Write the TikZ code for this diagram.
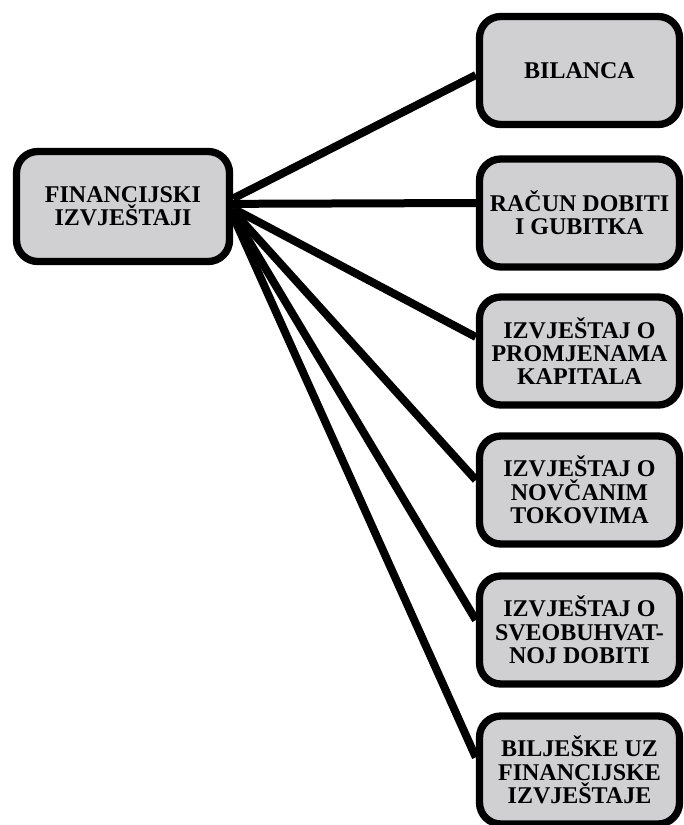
\documentclass[tikz,border=0pt]{standalone}
\usepackage{fontspec}
\setmainfont{Liberation Serif}
\usetikzlibrary{backgrounds}
\definecolor{boxgray}{RGB}{208,208,210}
\begin{document}
\begin{tikzpicture}[x=0.75pt,y=-0.75pt,
  box/.style={draw=black, line width=5.5pt, rounded corners=16pt, fill=boxgray,
    align=center, inner sep=0pt, text=black,
    font=\fontsize{18}{17.5}\selectfont\bfseries},
  leftbox/.style={box, minimum width=159.75pt, minimum height=82.5pt},
  rightbox/.style={box, minimum width=150pt, minimum height=81pt},
  conn/.style={draw=black, line width=6pt}]
\useasboundingbox (0,0) rectangle (684,825);
\node[leftbox] (L) at (123,206.5) {FINANCIJSKI\\IZVJEŠTAJI};
\node[rightbox] (B1) at (579.5,70.5) {BILANCA};
\node[rightbox] (B2) at (579.5,213) {RAČUN DOBITI\\I GUBITKA};
\node[rightbox] (B3) at (579.5,351) {IZVJEŠTAJ O\\PROMJENAMA\\KAPITALA};
\node[rightbox] (B4) at (579.5,490) {IZVJEŠTAJ O\\NOVČANIM\\TOKOVIMA};
\node[rightbox] (B5) at (579.5,630) {IZVJEŠTAJ O\\SVEOBUHVAT-\\NOJ DOBITI};
\node[rightbox] (B6) at (579.5,770) {BILJEŠKE UZ\\FINANCIJSKE\\IZVJEŠTAJE};
\begin{scope}[on background layer]
\draw[conn] ([yshift=6pt]L.east) -- ([yshift=-3.4pt]B1.west);
\draw[conn] ([yshift=2pt]L.east) -- ([yshift=7.5pt]B2.west);
\draw[conn] ([yshift=-1.5pt]L.east) -- ([yshift=10.5pt]B3.west);
\draw[conn] ([yshift=-3.5pt]L.east) -- ([yshift=7.5pt]B4.west);
\draw[conn] ([yshift=-6pt]L.east) -- ([yshift=7.5pt]B5.west);
\draw[conn] ([yshift=-7.5pt]L.east) -- ([yshift=9.5pt]B6.west);
\end{scope}
\end{tikzpicture}
\end{document}
